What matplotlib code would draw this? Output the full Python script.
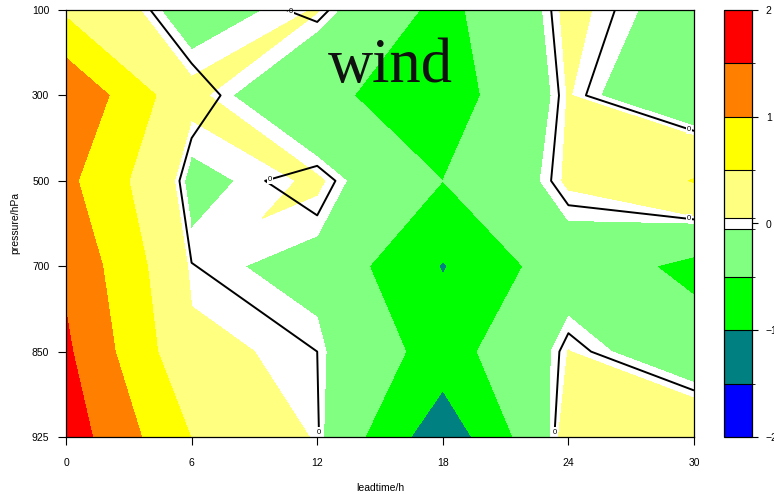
import numpy as np
import matplotlib
matplotlib.use("Agg")
import matplotlib.pyplot as plt
import matplotlib.tri as mtri
from matplotlib.colors import ListedColormap, BoundaryNorm

# forecast lead times (h) and pressure levels (hPa)
leadtime = [0, 6, 12, 18, 24, 30]
pressure = ["100", "300", "500", "700", "850", "925"]

# wind anomaly, one row per pressure level
wind_100 = [0.41, -0.20, 0.065, -0.63, 0.10, -0.17]
wind_300 = [1.46, 0.12, -0.40, -0.74, 0.06, -0.37]
wind_500 = [1.12, -0.12, 0.085, -0.50, 0.08, 0.52]
wind_700 = [1.41, 0.005, -0.125, -1.03, -0.20, -0.63]
wind_850 = [1.58, 0.10, 0.00, -0.71, 0.055, -0.25]
wind_925 = [1.77, 0.49, 0.02, -1.35, 0.17, 0.30]

# contour intervals and fill colours
bounds = [-2, -1.5, -1, -0.5, -0.05, 0.05, 0.5, 1, 1.5, 2]
colors = ["#0000FF", "#008080", "#00FF00", "#80FF80", "#FFFFFF",
          "#FFFF80", "#FFFF00", "#FF8000", "#FF0000"]
cbar_ticks = [-2, -1, 0, 1, 2]
cbar_labels = ["\u22122", "\u22121", "0", "1", "2"]

plt.rcParams["font.family"] = ["Liberation Sans", "DejaVu Sans"]

Z = np.array([wind_100, wind_300, wind_500, wind_700, wind_850, wind_925])
X = np.array(leadtime, dtype=float)
Y = np.arange(len(pressure), dtype=float)
ny, nx = Z.shape

cmap = ListedColormap(colors)
norm = BoundaryNorm(bounds, cmap.N)

fig = plt.figure(figsize=(7.74, 4.94), dpi=100)
ax = fig.add_axes([66 / 774, 57 / 494, 628 / 774, 427 / 494])

cf = ax.contourf(X, Y, Z, levels=bounds, cmap=cmap, norm=norm)

# saddle cells: fill them split along the diagonal joining the two high corners
XX, YY = np.meshgrid(X, Y)
idx = np.arange(ny * nx).reshape(ny, nx)
tris = []
for j in range(ny - 1):
    for i in range(nx - 1):
        tl, tr = Z[j, i], Z[j, i + 1]
        bl, br = Z[j + 1, i], Z[j + 1, i + 1]
        a, b, c, d = idx[j, i], idx[j, i + 1], idx[j + 1, i], idx[j + 1, i + 1]
        if min(tr, bl) > max(tl, br):
            tris += [[a, b, c], [b, d, c]]
        elif min(tl, br) > max(tr, bl):
            tris += [[a, b, d], [a, d, c]]
if tris:
    tri = mtri.Triangulation(XX.ravel(), YY.ravel(), triangles=tris)
    ax.tricontourf(tri, Z.ravel(), levels=bounds, cmap=cmap, norm=norm)

cs = ax.contour(X, Y, Z, levels=[0], colors="black", linewidths=1.4)

ax.set_xlim(0, 30)
ax.set_ylim(len(pressure) - 1, 0)
ax.set_xticks(leadtime)
ax.set_xticklabels([str(t) for t in leadtime])
ax.set_yticks(Y)
ax.set_yticklabels(pressure)
ax.tick_params(axis="both", direction="out", length=6, width=0.8,
               labelsize=7.5, colors="black")
ax.tick_params(axis="x", pad=9)
ax.tick_params(axis="y", pad=6)
for s in ax.spines.values():
    s.set_linewidth(0.9)
    s.set_zorder(6)

# label the zero line at one end of each piece (after the limits are final)
for seg in cs.allsegs[0]:
    if len(seg) < 2:
        continue
    closed = np.allclose(seg[0], seg[-1])
    if closed:
        k = int(np.argmin(seg[:, 0]))
        p = seg[k]
        q = seg[k + 1] if k + 1 < len(seg) else seg[k - 1]
    else:
        ends = [0, len(seg) - 1]
        ends.sort(key=lambda e: (-seg[e, 1], seg[e, 0]))
        k = ends[0]
        p = seg[k]
        q = seg[1] if k == 0 else seg[-2]
    pd = ax.transData.transform(p)
    qd = ax.transData.transform(q)
    v = qd - pd
    v = v / (np.hypot(*v) + 1e-9)
    ax.annotate("0", xy=p, xytext=(v[0] * 5, v[1] * 5),
                textcoords="offset pixels", ha="center", va="center",
                fontsize=5.5, color="black", annotation_clip=False,
                zorder=5,
                bbox=dict(boxstyle="square,pad=0.15", fc="white",
                          ec="none"))

ax.set_xlabel("leadtime/h", fontsize=7.5, labelpad=11)
ax.set_ylabel("pressure/hPa", fontsize=7.5, labelpad=8)

ax.text(0.517, 0.831, "wind", transform=ax.transAxes, ha="center",
        va="baseline", fontsize=45, family=["Liberation Serif"],
        color="#111111")

cax = fig.add_axes([724 / 774, 57 / 494, 28 / 774, 427 / 494])
cb = fig.colorbar(cf, cax=cax, spacing="proportional", ticks=cbar_ticks,
                  drawedges=True)
cb.ax.set_yticklabels(cbar_labels)
cb.dividers.set_color("black")
cb.dividers.set_linewidth(0.8)
cb.outline.set_linewidth(0.9)
cb.ax.tick_params(direction="out", length=4, width=0.8, labelsize=7.5, pad=6)

fig.savefig("out.png", dpi=100)
